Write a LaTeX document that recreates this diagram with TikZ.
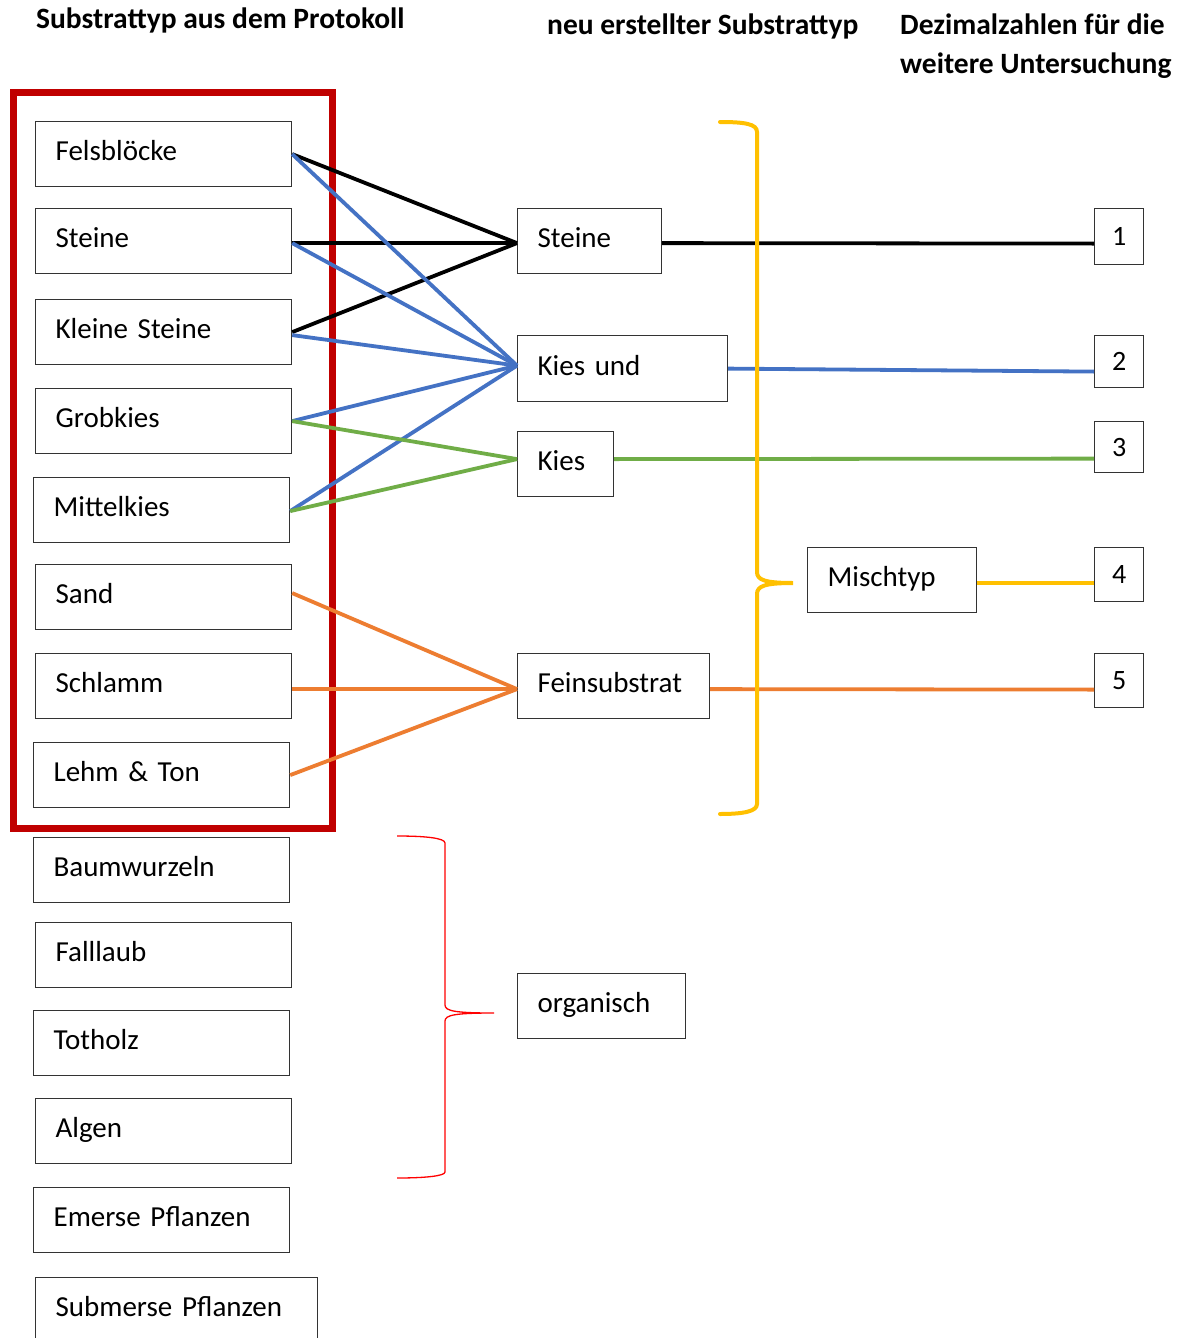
\documentclass[tikz,border=0pt]{standalone}
\usepackage{fontspec}
\setmainfont{Carlito}
\definecolor{lblue}{HTML}{4472C4}
\definecolor{lgreen}{HTML}{70AD47}
\definecolor{lorange}{HTML}{ED7D31}
\definecolor{lyellow}{HTML}{FFC000}
\definecolor{dred}{HTML}{C00000}
\definecolor{bred}{HTML}{FF0000}
\tikzset{
  box/.style={draw=black!80, line width=1.2pt, inner xsep=20pt, inner ysep=0pt,
    minimum height=65pt, align=left, anchor=north west, text height=20pt, text depth=7pt,
    font=\fontsize{29}{34}\selectfont},
  numbox/.style={draw=black!80, line width=1.2pt, inner sep=0pt, minimum width=49pt,
    anchor=north west, font=\fontsize{28}{32}\selectfont},
  ttl/.style={anchor=base west, inner sep=0pt, font=\fontsize{29.5}{34}\selectfont\bfseries},
  con/.style={line width=3.8pt},
  brace/.style={line width=4pt, lyellow, line cap=round},
}
\begin{document}
\lefthyphenmin=62 \righthyphenmin=62
\begin{tikzpicture}[x=1pt,y=-1pt]
\clip (0,0) rectangle (1180,1338);
\fill[white] (0,0) rectangle (1180,1338);
% titles
\node[ttl] (t1) at (36,29) {Substrattyp aus dem Protokoll};
\node[ttl] (t2) at (547,35) {neu erstellter Substrattyp};
\node[ttl] (t3) at (900,35) {Dezimalzahlen für die};
\node[ttl] (t4) at (900,74) {weitere Untersuchung};
% left boxes
\node[box, text width=216pt] (fels) at (35,121) {Felsblöcke};
\node[box, text width=216pt] (steine) at (35,208) {Steine};
\node[box, text width=216pt] (kleine) at (35,299) {Kleine Steine};
\node[box, text width=216pt] (grob) at (35,388) {Grobkies};
\node[box, text width=216pt] (mittel) at (33,477) {Mittelkies};
\node[box, text width=216pt] (sand) at (35,564) {Sand};
\node[box, text width=216pt] (schlamm) at (35,653) {Schlamm};
\node[box, text width=216pt] (lehm) at (33,742) {Lehm \& Ton};
\node[box, text width=216pt] (baum) at (33,837) {Baumwurzeln};
\node[box, text width=216pt] (laub) at (35,922) {Falllaub};
\node[box, text width=216pt] (tot) at (33,1010) {Totholz};
\node[box, text width=216pt] (algen) at (35,1098) {Algen};
\node[box, text width=216pt] (emerse) at (33,1187) {Emerse Pflanzen};
\node[box, text width=242pt] (submerse) at (35,1277) {Submerse Pflanzen};
% red frame
\draw[dred, line width=7pt] (13,92) rectangle (332,828);
% middle boxes
\node[box, text width=104pt] (msteine) at (517,208) {Steine};
\node[box, text width=170pt, minimum height=66pt] (kiesund) at (517,335) {Kies und};
\node[box, text width=56pt] (kies) at (517,431) {Kies};
\node[box, text width=152pt] (fein) at (517,653) {Feinsubstrat};
\node[box, text width=129pt] (misch) at (807,547) {Mischtyp};
\node[box, text width=128pt] (org) at (517,973) {organisch};
% number boxes
\node[numbox, minimum height=56pt] (n1) at (1094,208) {1};
\node[numbox, minimum height=52pt] (n2) at (1094,335) {2};
\node[numbox, minimum height=51pt] (n3) at (1094,421) {3};
\node[numbox, minimum height=54pt] (n4) at (1094,547) {4};
\node[numbox, minimum height=54pt] (n5) at (1094,653) {5};
% coordinates for convergence points
\coordinate (cs) at ([yshift=-2pt]msteine.west);
\coordinate (cku) at ([yshift=3pt]kiesund.west);
\coordinate (ck) at ([yshift=5pt]kies.west);
\coordinate (cf) at ([yshift=-3pt]fein.west);
% black
\draw[con, black] (fels.east) -- (cs);
\draw[con, black] ([yshift=-2pt]steine.east) -- (cs);
\draw[con, black] (kleine.east) -- (cs);
\draw[con, black] ([yshift=-2pt]msteine.east) -- ([yshift=-7pt]n1.west);
% blue
\draw[con, lblue] (fels.east) -- (cku);
\draw[con, lblue] ([yshift=-2pt]steine.east) -- (cku);
\draw[con, lblue] ([yshift=-3pt]kleine.east) -- (cku);
\draw[con, lblue] ([yshift=0pt]grob.east) -- (cku);
\draw[con, lblue] ([yshift=-1pt]mittel.east) -- (cku);
\draw[con, lblue] (kiesund.east) -- ([yshift=-10pt]n2.west);
% green
\draw[con, lgreen] (grob.east) -- (ck);
\draw[con, lgreen] ([yshift=-1pt]mittel.east) -- (ck);
\draw[con, lgreen] ([yshift=5pt]kies.east) -- ([yshift=-11.5pt]n3.west);
% orange
\draw[con, lorange] ([yshift=4pt]sand.east) -- (cf);
\draw[con, lorange] ([yshift=-3pt]schlamm.east) -- (cf);
\draw[con, lorange] (lehm.east) -- (cf);
\draw[con, lorange] ([yshift=-3pt]fein.east) -- ([yshift=-9pt]n5.west);
% yellow
\draw[con, lyellow] ([yshift=-2.5pt]misch.east) -- ([yshift=-8pt]n4.west);
% yellow brace
\draw[brace] (720,122) .. controls (745,122) and (757,124) .. (757,132)
  -- (757,572) .. controls (757,580) and (765,583) .. (793,583)
  .. controls (765,583) and (757,586) .. (757,594)
  -- (757,804) .. controls (757,811) and (745,814) .. (720,814);
% red brace
\draw[bred, line width=1.3pt] (397,836) .. controls (425,836) and (445,838) .. (445,843)
  -- (445,1005) .. controls (445,1011) and (455,1013) .. (494,1013)
  .. controls (455,1013) and (445,1015) .. (445,1021)
  -- (445,1172) .. controls (445,1176) and (425,1178) .. (397,1178);
\end{tikzpicture}
\end{document}
